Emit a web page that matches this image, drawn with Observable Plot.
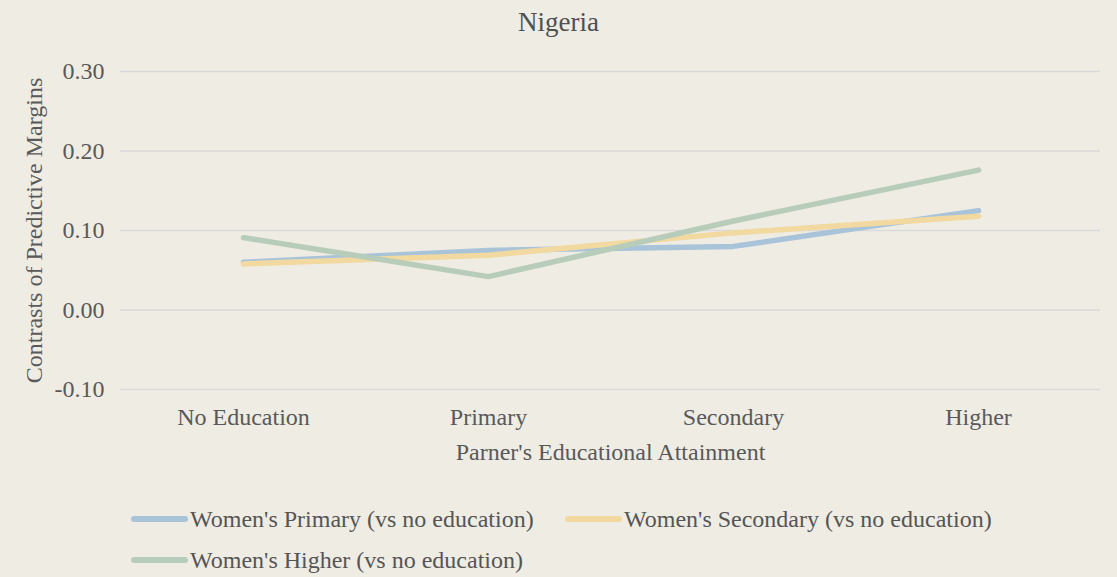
<!DOCTYPE html>
<html>
<head>
<meta charset="utf-8">
<script src="https://cdn.jsdelivr.net/npm/d3@7"></script>
<script src="https://cdn.jsdelivr.net/npm/@observablehq/plot@0.6"></script>
<style>
  html, body { margin: 0; padding: 0; background: #EFECE4; }
  body { width: 1117px; height: 577px; position: relative; overflow: hidden; font-family: "Liberation Serif", "Times New Roman", Times, "DejaVu Serif", serif; color: #595959; }
  #title { position: absolute; left: 0; top: 7px; width: 1117px; text-align: center; font-size: 27px; line-height: 31px; color: #505050; }
  #chart { position: absolute; left: 0; top: 46px; }
  #chart svg, #chart svg text { font-family: "Liberation Serif", "Times New Roman", Times, "DejaVu Serif", serif !important; }
  .leg { position: absolute; display: flex; align-items: center; font-size: 24px; line-height: 28px; color: #555555; white-space: nowrap; }
  .sw { width: 57px; height: 6px; border-radius: 3px; margin-right: 2px; }
</style>
</head>
<body>
<div id="title">Nigeria</div>
<div id="chart"></div>
<div id="legend"></div>
<script>
const categories = ["No Education", "Primary", "Secondary", "Higher"];
const seriesNames = [
  "Women's Primary (vs no education)",
  "Women's Secondary (vs no education)",
  "Women's Higher (vs no education)"
];
const womensPrimary = [0.060, 0.075, 0.080, 0.125];
const womensSecondary = [0.058, 0.069, 0.097, 0.118];
const womensHigher = [0.091, 0.042, 0.112, 0.176];
const yTicks = [-0.10, 0.00, 0.10, 0.20, 0.30];
const colors = ["#A9C4D9", "#F1D9A0", "#B8CDB9"];

const seriesValues = [womensPrimary, womensSecondary, womensHigher];
const data = [];
seriesValues.forEach((vals, s) => vals.forEach((v, i) => data.push({series: seriesNames[s], cat: categories[i], value: v})));

const plot = Plot.plot({
  width: 1117,
  height: 420,
  marginLeft: 120,
  marginRight: 17,
  marginTop: 25,
  marginBottom: 77,
  style: {background: "transparent", fontSize: "24px", color: "#595959"},
  x: {type: "point", domain: categories, padding: 0.5, label: null},
  y: {domain: [-0.1, 0.3], label: null},
  color: {domain: seriesNames, range: colors},
  marks: [
    Plot.ruleY(yTicks, {stroke: "#D9D9D9", strokeWidth: 1.5}),
    Plot.axisY({ticks: yTicks, tickFormat: d => d.toFixed(2), tickSize: 0, tickPadding: 16, fontSize: 24, fill: "#595959",
      label: "Contrasts of Predictive Margins", labelAnchor: "center", labelArrow: "none", labelOffset: 96}),
    Plot.axisX({tickSize: 0, tickPadding: 18, fontSize: 24, fill: "#595959",
      label: "Parner's Educational Attainment", labelAnchor: "center", labelArrow: "none", labelOffset: 70}),
    Plot.line(data, {x: "cat", y: "value", z: "series", stroke: "series", strokeWidth: 5.5, strokeLinecap: "round", strokeLinejoin: "round"})
  ]
});
document.getElementById("chart").appendChild(plot);

const pos = [[131, 505], [565, 505], [131, 546]];
const leg = document.getElementById("legend");
seriesNames.forEach((name, i) => {
  const d = document.createElement("div");
  d.className = "leg";
  d.style.left = pos[i][0] + "px";
  d.style.top = pos[i][1] + "px";
  const sw = document.createElement("div");
  sw.className = "sw";
  sw.style.background = colors[i];
  const t = document.createElement("span");
  t.textContent = name;
  d.appendChild(sw);
  d.appendChild(t);
  leg.appendChild(d);
});
</script>
</body>
</html>
